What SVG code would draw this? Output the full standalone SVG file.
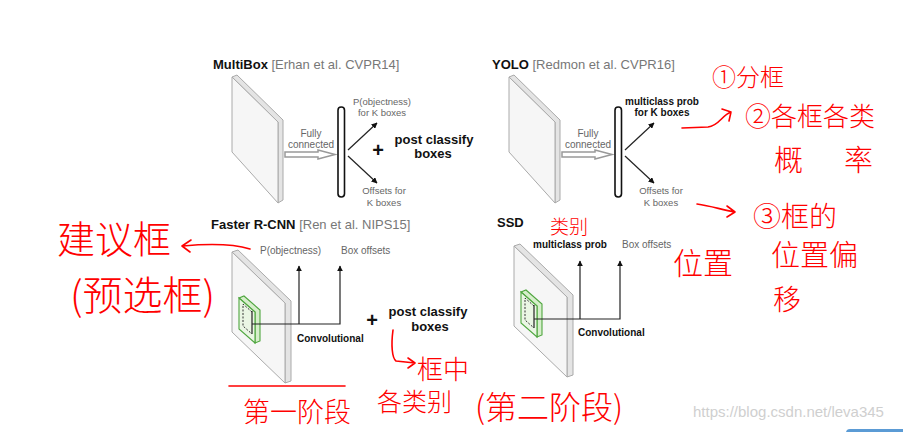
<svg xmlns="http://www.w3.org/2000/svg" width="903" height="432" viewBox="0 0 903 432">
<style>
.t{font-family:"Liberation Sans",Arial,sans-serif}
.tb{font-family:"Liberation Sans",Arial,sans-serif;font-weight:bold;fill:#111}
.tg{font-family:"Liberation Sans",Arial,sans-serif;fill:#666}
.slab{fill:#f6f6f6;stroke:#aaa;stroke-width:1}
.side{fill:#e4e4e4;stroke:#aaa;stroke-width:1}
.hollow{fill:#fff;stroke:#999;stroke-width:1.5}
.bar{fill:#fff;stroke:#111;stroke-width:1.6}
.ln{stroke:#222;stroke-width:1.2;fill:none}
.gface{fill:#eaf6e4;stroke:#4fa63f;stroke-width:1.1}
.gside{fill:#d6eecb;stroke:#4fa63f;stroke-width:1.1}
.dash{stroke:#333;stroke-width:1;stroke-dasharray:2 1.5;fill:none}
.red{font-family:"Noto Sans CJK SC",sans-serif;fill:#f00;font-weight:300}
.rs{stroke:#f00;stroke-width:1.6;fill:none;stroke-linecap:round;stroke-linejoin:round}
</style>
<defs>
<marker id="ah" viewBox="0 0 10 10" refX="9" refY="5" markerWidth="5" markerHeight="5" orient="auto">
<path d="M0,0 L10,5 L0,10 z" fill="#111"/>
</marker>
</defs>
<rect width="903" height="432" fill="#fff"/>

<g id="multibox">
<text x="213" y="69" font-size="13" class="t"><tspan font-weight="bold" fill="#111">MultiBox</tspan><tspan fill="#777"> [Erhan et al. CVPR14]</tspan></text>
<polygon class="side" points="232,77 237,75 283,120 283,200 278,203 278,122"/>
<polygon class="slab" points="232,77 278,122 278,203 232,152"/>
<text x="311" y="137" font-size="10" class="tg" text-anchor="middle">Fully</text>
<text x="311" y="148" font-size="10" class="tg" text-anchor="middle">connected</text>
<polygon class="hollow" points="285,152 318,152 318,150 335,154.5 318,159 318,157 285,157"/>
<rect class="bar" x="338" y="107" width="6.5" height="90" rx="3.2"/>
<text x="382" y="105" font-size="9.5" class="tg" text-anchor="middle">P(objectness)</text>
<text x="382" y="116" font-size="9.5" class="tg" text-anchor="middle">for K boxes</text>
<text x="384" y="194" font-size="9.5" class="tg" text-anchor="middle">Offsets for</text>
<text x="384" y="206" font-size="9.5" class="tg" text-anchor="middle">K boxes</text>
<text x="378" y="157" font-size="20" class="tb" text-anchor="middle">+</text>
<text x="434" y="144" font-size="13" class="tb" text-anchor="middle">post classify</text>
<text x="433" y="158" font-size="13" class="tb" text-anchor="middle">boxes</text>
</g>

<g id="yolo">
<text x="492" y="69" font-size="13" class="t"><tspan font-weight="bold" fill="#111">YOLO</tspan><tspan fill="#777"> [Redmon et al. CVPR16]</tspan></text>
<polygon class="side" points="509,77 514,75 560,120 560,200 555,203 555,122"/>
<polygon class="slab" points="509,77 555,122 555,203 509,152"/>
<text x="588" y="137" font-size="10" class="tg" text-anchor="middle">Fully</text>
<text x="588" y="148" font-size="10" class="tg" text-anchor="middle">connected</text>
<polygon class="hollow" points="562,152 595,152 595,150 612,154.5 595,159 595,157 562,157"/>
<rect class="bar" x="615" y="107" width="6.5" height="90" rx="3.2"/>
<text x="662" y="105" font-size="10" class="tb" text-anchor="middle">multiclass prob</text>
<text x="662" y="116" font-size="10" class="tb" text-anchor="middle">for K boxes</text>
<text x="661" y="194" font-size="9.5" class="tg" text-anchor="middle">Offsets for</text>
<text x="661" y="206" font-size="9.5" class="tg" text-anchor="middle">K boxes</text>
</g>

<g id="faster-rcnn">
<text x="211" y="229" font-size="13" class="t"><tspan font-weight="bold" fill="#111">Faster R-CNN</tspan><tspan fill="#777"> [Ren et al. NIPS15]</tspan></text>
<polygon class="side" points="232,252 238,250 291,301 291,381 285,383 285,303"/>
<polygon class="slab" points="232,252 285,303 285,383 232,332"/>
<polygon class="gside" points="239,298 244,296 260,310 260,341 255,343 255,312"/>
<polygon class="gface" points="239,298 255,312 255,343 239,329"/>
<polyline class="dash" points="252,312 243,304 243,326 252,334"/>
<line class="ln" x1="252" y1="311" x2="252" y2="334"/>
<text x="260" y="254" font-size="10" class="tg">P(objectness)</text>
<text x="341" y="254" font-size="10" class="tg">Box offsets</text>
<text x="297" y="342" font-size="10" class="tb">Convolutional</text>
<text x="372" y="327" font-size="20" class="tb" text-anchor="middle">+</text>
<text x="428" y="316" font-size="13" class="tb" text-anchor="middle">post classify</text>
<text x="430" y="331" font-size="13" class="tb" text-anchor="middle">boxes</text>
</g>

<g id="ssd">
<text x="497" y="227" font-size="13" class="tb">SSD</text>
<polygon class="side" points="514,246 520,244 573,295 573,375 567,377 567,297"/>
<polygon class="slab" points="514,246 567,297 567,377 514,326"/>
<polygon class="gside" points="521,292 526,290 542,304 542,335 537,337 537,306"/>
<polygon class="gface" points="521,292 537,306 537,337 521,323"/>
<polyline class="dash" points="534,306 525,298 525,320 534,328"/>
<line class="ln" x1="534" y1="305" x2="534" y2="328"/>
<text x="533" y="248" font-size="10" class="tb">multiclass prob</text>
<text x="622" y="248" font-size="10" class="tg">Box offsets</text>
<text x="578" y="336" font-size="10" class="tb">Convolutional</text>
</g>

<g id="connectors">
<line class="ln" x1="348" y1="150" x2="377" y2="123" marker-end="url(#ah)"/>
<line class="ln" x1="348" y1="156" x2="377" y2="183" marker-end="url(#ah)"/>
<line class="ln" x1="625" y1="150" x2="654" y2="123" marker-end="url(#ah)"/>
<line class="ln" x1="625" y1="156" x2="654" y2="183" marker-end="url(#ah)"/>
<polyline class="ln" points="252,324 340,324 340,266" marker-end="url(#ah)"/>
<line class="ln" x1="299" y1="324" x2="299" y2="266" marker-end="url(#ah)"/>
<polyline class="ln" points="534,319 620,319 620,261" marker-end="url(#ah)"/>
<line class="ln" x1="580" y1="319" x2="580" y2="261" marker-end="url(#ah)"/>
</g>

<g id="annotations">
<path class="rs" d="M682,128 L708,127 C719,126 722,115 731,112 M722,109 L731,112 L729,121"/>
<path class="rs" d="M697,204 C712,206 722,210 735,212 M727,206 L735,212 L727,217"/>
<path class="rs" d="M250,249 C230,243 205,244 183,246 M191,240 L182,246 L190,252"/>
<path class="rs" d="M393,330 C391,345 392,358 396,361 L415,363 M408,358 L415,363 L408,368"/>
<line class="rs" x1="229" y1="386" x2="345" y2="386"/>
<text x="712" y="86" font-size="24" class="red">①分框</text>
<text x="745" y="126" font-size="26" class="red">②各框各类</text>
<text x="774" y="171" font-size="29" class="red">概</text>
<text x="844" y="171" font-size="29" class="red">率</text>
<text x="753" y="227" font-size="28" class="red">③框的</text>
<text x="771" y="266" font-size="29" class="red">位置偏</text>
<text x="773" y="310" font-size="28" class="red">移</text>
<text x="673" y="274" font-size="30" class="red">位置</text>
<text x="550" y="234" font-size="19" class="red">类别</text>
<text x="57" y="253" font-size="38" class="red">建议框</text>
<text x="70" y="310" font-size="40" class="red">(预选框)</text>
<text x="243" y="422" font-size="27" class="red">第一阶段</text>
<text x="417" y="379" font-size="26" class="red">框中</text>
<text x="377" y="411" font-size="25" class="red">各类别</text>
<text x="475" y="419" font-size="32" class="red">(第二阶段)</text>
</g>

<text x="693" y="417" font-size="15" fill="#cfcfcf" class="t">https://blog.csdn.net/leva345</text>
<rect x="846" y="429" width="62" height="10" rx="4" fill="#5b9bd5"/>
</svg>
